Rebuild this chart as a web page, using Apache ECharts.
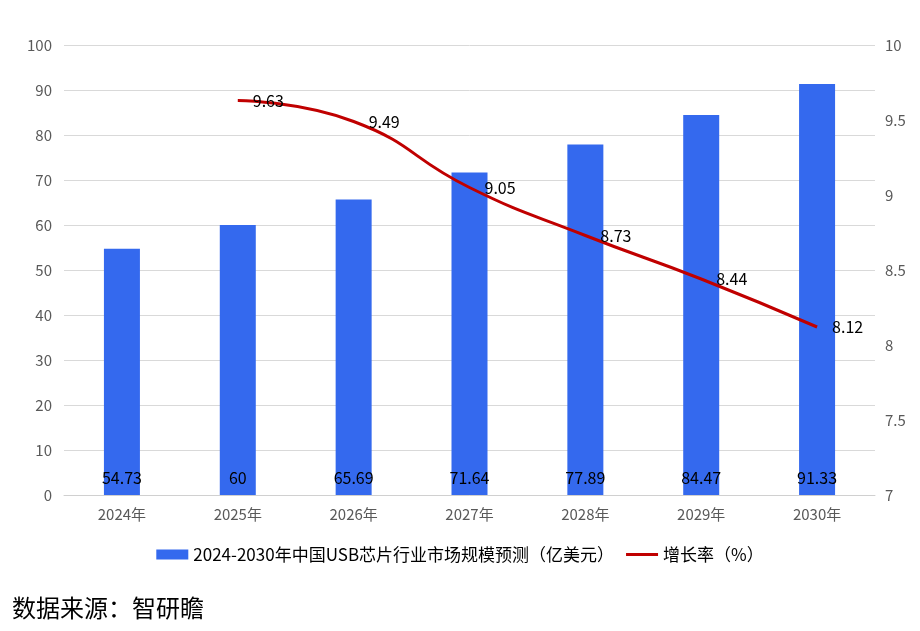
<!DOCTYPE html>
<html><head><meta charset="utf-8">
<script src="https://cdn.jsdelivr.net/npm/echarts@6/dist/echarts.min.js"></script>
<style>html,body{margin:0;padding:0;background:#fff}#c{width:920px;height:631px}</style>
</head><body><div id="c"></div>
<script>
const categories = ['2024年','2025年','2026年','2027年','2028年','2029年','2030年'];
const marketSize = [54.73, 60, 65.69, 71.64, 77.89, 84.47, 91.33];
const growthRate = [null, 9.63, 9.49, 9.05, 8.73, 8.44, 8.12];
const barName = '2024-2030年中国USB芯片行业市场规模预测（亿美元）';
const lineName = '增长率（%）';
const sourceText = '数据来源：智研瞻';
const FONT = '"Noto Sans CJK SC", "Noto Sans", sans-serif';

const chart = echarts.init(document.getElementById('c'));
chart.setOption({
  animation: false,
  textStyle: { fontFamily: FONT },
  grid: { left: 64, right: 45, top: 45, bottom: 136 },
  legend: {
    bottom: 63, left: 'center', itemWidth: 32, itemHeight: 10, itemGap: 12,
    textStyle: { fontSize: 17, color: '#000', fontFamily: FONT },
    data: [
      { name: barName, icon: 'rect' },
      { name: lineName, icon: 'path://M0,0 L34,0 L34,3 L0,3 Z', itemStyle: { color: '#c00000' } }
    ]
  },
  graphic: [{ type: 'text', left: 12, top: 596, style: { text: sourceText, fontSize: 24, fill: '#000', fontFamily: FONT } }],
  xAxis: {
    type: 'category', data: categories,
    axisLine: { lineStyle: { color: '#d0d0d0' } },
    axisTick: { show: false },
    axisLabel: { color: '#595959', fontSize: 15, margin: 12 }
  },
  yAxis: [
    { type: 'value', min: 0, max: 100, interval: 10,
      axisLine: { show: false }, axisTick: { show: false },
      axisLabel: { color: '#595959', fontSize: 15, margin: 12 },
      splitLine: { lineStyle: { color: '#d9d9d9' } } },
    { type: 'value', min: 7, max: 10, interval: 0.5,
      axisLine: { show: false }, axisTick: { show: false },
      axisLabel: { color: '#595959', fontSize: 15, margin: 10 },
      splitLine: { show: false } }
  ],
  series: [
    { name: barName, type: 'bar', data: marketSize, barWidth: 36,
      itemStyle: { color: '#3469ee' },
      label: { show: true, position: 'insideBottom', distance: 9, color: '#000', fontSize: 16 } },
    { name: lineName, type: 'line', yAxisIndex: 1, data: growthRate, smooth: true,
      symbol: 'circle', symbolSize: 0, showSymbol: true,
      lineStyle: { color: '#c00000', width: 3 }, itemStyle: { color: '#c00000' },
      label: { show: true, position: 'right', distance: 15, color: '#000', fontSize: 16 } }
  ]
});
</script></body></html>
